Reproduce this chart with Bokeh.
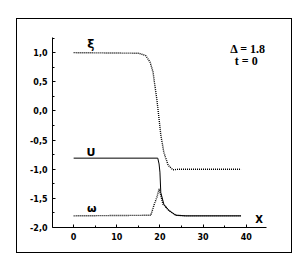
from bokeh.plotting import figure
from bokeh.models import FixedTicker, CustomJSTickFormatter, Label, Range1d
from bokeh.embed import file_html
from bokeh.resources import INLINE

# data
xi_x = [0, 15.1, 16.7, 17.7, 18.4, 18.8, 19.3, 19.8, 20.2, 20.9, 21.9, 23.0, 24.4, 38.8]
xi_y = [1.0, 0.99, 0.95, 0.84, 0.67, 0.45, 0.19, -0.14, -0.41, -0.71, -0.93, -1.01, -1.0, -1.0]

u_x = [0, 19.5, 19.8, 20.0, 20.2, 20.9, 22.1, 23.7, 26.0, 38.8]
u_y = [-0.81, -0.81, -0.91, -1.05, -1.40, -1.60, -1.71, -1.79, -1.8, -1.8]

w_x = [0, 17.9, 18.6, 19.3, 19.8, 20.2, 20.7, 22.1, 23.7, 26.0, 38.8]
w_y = [-1.8, -1.79, -1.62, -1.48, -1.34, -1.45, -1.60, -1.71, -1.79, -1.8, -1.8]

x_ticks = [0, 10, 20, 30, 40]
x_minor = [5, 15, 25, 35]
y_ticks = [-2.0, -1.5, -1.0, -0.5, 0.0, 0.5, 1.0]
y_minor = [-1.75, -1.25, -0.75, -0.25, 0.25, 0.75, 1.25]

p = figure(width=276, height=235, output_backend="svg", toolbar_location=None,
           x_range=Range1d(-4.9, 44.7), y_range=Range1d(-2.0, 1.26),
           min_border_left=35, min_border_top=18, min_border_right=27, min_border_bottom=27)
p.margin = (18, 0, 0, 16)
p.styles = {"border": "1px solid black"}
p.outline_line_color = None
p.xgrid.visible = False
p.ygrid.visible = False
p.background_fill_color = "white"
p.border_fill_color = "white"

p.xaxis.ticker = FixedTicker(ticks=x_ticks, minor_ticks=x_minor)
p.yaxis.ticker = FixedTicker(ticks=y_ticks, minor_ticks=y_minor)
p.yaxis.formatter = CustomJSTickFormatter(code="return tick.toFixed(1).replace('.', ',');")
for ax in (p.xaxis, p.yaxis):
    ax.major_tick_in = 3
    ax.major_tick_out = 0
    ax.minor_tick_in = 2
    ax.minor_tick_out = 0
    ax.axis_line_color = "black"
    ax.major_tick_line_color = "black"
    ax.minor_tick_line_color = "black"
    ax.major_label_text_font = "DejaVu Sans"
    ax.major_label_text_font_size = "8px"
    ax.major_label_text_font_style = "bold"
    ax.major_label_text_color = "black"
p.xaxis.major_label_standoff = 5
p.yaxis.major_label_standoff = 5

p.line(xi_x, xi_y, line_color="black", line_width=1.4, line_dash="1 1")
p.line(u_x, u_y, line_color="black", line_width=1)
p.line(w_x, w_y, line_color="black", line_width=1.4, line_dash="1 1")

def lab(x, y, t, size="10px", font="DejaVu Sans", align="center"):
    p.add_layout(Label(x=x, y=y, text=t, text_align=align, text_baseline="middle",
                       text_font=font, text_font_size=size, text_font_style="bold",
                       text_color="black"))

lab(4.0, 1.14, "ξ", "12px")
lab(4.0, -0.71, "U", "11px")
lab(4.2, -1.67, "ω", "11px")
lab(43.0, -1.86, "X", "10px")
lab(44.5, 1.07, "Δ = 1.8", "12px", "Liberation Serif", "right")
lab(40.0, 0.85, "t = 0", "12px", "Liberation Serif")

open("out.html", "w").write(file_html(p, INLINE))
